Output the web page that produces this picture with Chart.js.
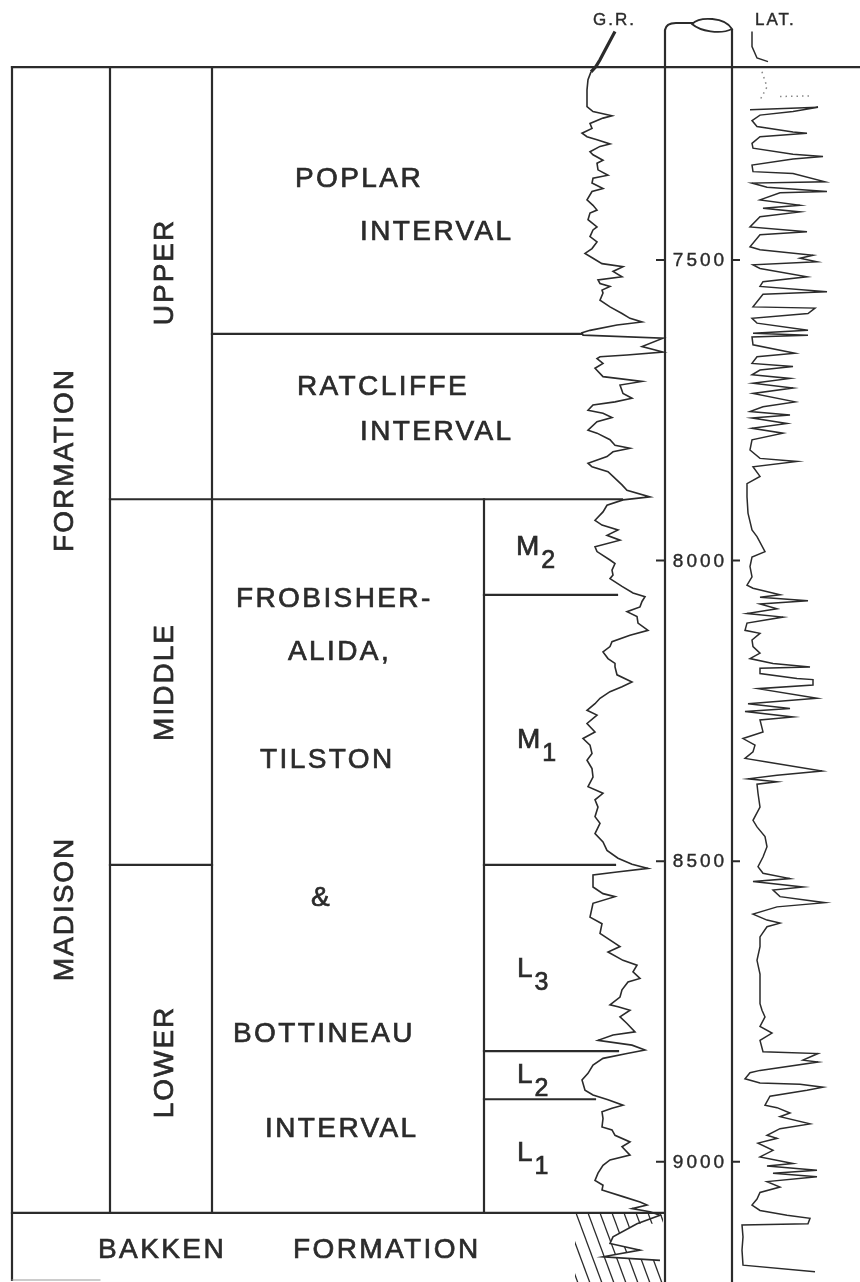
<!DOCTYPE html>
<html>
<head>
<meta charset="utf-8">
<title>Madison Formation - type log</title>
<script src="https://cdn.jsdelivr.net/npm/chart.js@4.4.0/dist/chart.umd.min.js"></script>
<style>
  html, body { margin: 0; padding: 0; background: #fff; }
  canvas { display: block; }
</style>
</head>
<body>
<canvas id="log" width="860" height="1282"></canvas>
<script>
// — DATA —
// depth ticks on the depth track (ft)
const depthTicks = [7500, 8000, 8500, 9000];

// zone boundaries (ft), top to bottom
const zoneNames = ['Madison', 'Ratcliffe', 'Middle', 'M1', 'Lower', 'L2', 'L1', 'Bakken'];
const zoneTops  = [7179, 7623, 7898, 8057, 8506, 8816, 8896, 9085];

// gamma ray log: [depth ft, API]
const grLog = [
  [7120,55],[7151,45],[7167,40],[7178,36],[7187,31],[7200,28],[7217,27],[7234,27],[7245,27],[7253,33],
  [7260,52],[7264,43],[7273,30],[7281,32],[7289,22],[7295,27],[7300,37],[7307,50],[7311,40],[7320,30],
  [7325,33],[7334,43],[7339,37],[7350,38],[7359,48],[7364,33],[7372,32],[7381,43],[7386,32],[7400,27],
  [7409,33],[7417,37],[7422,30],[7433,28],[7445,37],[7450,33],[7461,30],[7470,37],[7481,32],[7489,25],
  [7497,33],[7506,42],[7511,63],[7519,53],[7528,62],[7533,38],[7539,40],[7544,50],[7550,42],[7555,43],
  [7567,40],[7578,50],[7589,62],[7597,70],[7603,82],[7608,57],[7617,30],[7621,22],[7625,23],[7630,103],
  [7644,82],[7653,103],[7658,67],[7661,40],[7664,37],[7672,43],[7680,35],[7694,43],[7702,82],[7708,60],
  [7722,63],[7730,72],[7736,55],[7741,33],[7750,28],[7755,43],[7762,52],[7769,37],[7783,28],[7788,37],
  [7799,50],[7808,55],[7813,70],[7819,53],[7827,47],[7838,28],[7844,32],[7852,48],[7860,53],[7874,62],
  [7883,67],[7894,90],[7899,63],[7908,47],[7919,43],[7933,35],[7941,42],[7949,58],[7958,47],[7966,60],
  [7977,35],[7985,37],[7999,50],[8005,55],[8016,52],[8024,53],[8030,50],[8043,62],[8054,73],[8060,85],
  [8068,82],[8077,80],[8085,67],[8093,77],[8104,78],[8116,88],[8124,70],[8135,52],[8143,50],[8152,43],
  [8163,48],[8171,55],[8177,55],[8190,57],[8202,72],[8210,62],[8218,50],[8229,40],[8238,35],[8249,27],
  [8257,37],[8271,27],[8285,35],[8296,23],[8307,30],[8321,32],[8332,27],[8346,32],[8360,33],[8376,28],
  [8387,43],[8398,35],[8410,38],[8426,35],[8437,40],[8454,35],[8468,43],[8482,47],[8495,58],[8505,72],
  [8512,88],[8518,57],[8523,33],[8543,33],[8554,43],[8559,55],[8570,33],[8593,30],[8604,42],[8620,40],
  [8642,60],[8651,48],[8665,63],[8673,77],[8684,73],[8695,80],[8701,68],[8714,62],[8726,60],[8739,50],
  [8742,58],[8748,70],[8759,60],[8770,67],[8784,75],[8789,53],[8798,38],[8806,72],[8814,85],[8820,67],
  [8828,43],[8839,33],[8853,28],[8864,22],[8881,25],[8889,33],[8897,48],[8906,63],[8911,52],[8917,42],
  [8928,43],[8942,42],[8947,52],[8956,55],[8967,70],[8975,62],[8989,70],[8997,50],[9006,43],[9019,38],
  [9031,35],[9039,43],[9047,42],[9058,63],[9067,80],[9072,87],[9078,72],[9083,90],[9089,100],[9103,77],
  [9125,53],[9136,50],[9147,80],[9158,43],[9164,100]
];

// laterolog: [depth ft, resistivity units]; null = pen lifted
const latLog = [
  [7120,17],[7145,17],[7164,22],[7170,33], null,
  [7187,27],[7212,32],[7234,25], null,
  [7228,45],[7227,78], null,
  [7250,15],[7246,83],[7253,58],[7259,25],[7268,17],[7278,22],[7287,58],[7289,72],[7295,25],[7306,17],
  [7314,18],[7324,58],[7328,88],[7332,58],[7342,17],[7353,18],[7356,58],[7370,90],[7372,17],[7379,32],
  [7386,92],[7388,45],[7400,25],[7409,65],[7414,28],[7420,65],[7428,25],[7445,15],[7453,72],[7458,25],
  [7478,15],[7483,25],[7492,78],[7497,65],[7503,82],[7508,18],[7514,25],[7528,72],[7536,28],[7544,25],
  [7553,92],[7557,28],[7578,18],[7580,80],[7589,73],[7597,17],[7605,22],[7617,73],[7622,18],[7625,73],
  [7628,17],[7641,18],[7655,60],[7661,22],[7672,17],[7677,58],[7683,25],[7691,17],[7697,55],[7705,18],
  [7713,58],[7722,18],[7736,60],[7744,28],[7752,15],[7758,55],[7763,17],[7772,52],[7780,17],[7788,48],
  [7799,17],[7816,15],[7830,25],[7835,62],[7844,18],[7860,25],[7872,12],[7894,12],[7921,13],[7949,17],
  [7960,22],[7985,30],[7994,17],[8010,15],[8027,17],[8041,12],[8046,18],[8057,45],[8061,25],[8067,73],
  [8072,25],[8080,42],[8088,12],[8094,48],[8104,12],[8116,10],[8121,25],[8132,17],[8143,18],[8154,25],
  [8163,15],[8171,38],[8177,75],[8179,25],[8188,25],[8196,62],[8198,78],[8207,78],[8213,23],[8229,82],
  [8238,13],[8246,55],[8251,10],[8260,58],[8265,25],[8285,28],[8296,8],[8307,20],[8318,18],[8329,10],
  [8335,32],[8350,87],[8357,42],[8363,13],[8368,42],[8372,22],[8387,23],[8410,25],[8432,18],[8443,22],
  [8459,30],[8476,32],[8493,28],[8509,23],[8520,28],[8529,55],[8534,18],[8543,68],[8548,38],[8559,45],
  [8569,90],[8576,42],[8588,18],[8598,32],[8603,45],[8609,32],[8626,25],[8642,25],[8665,22],[8688,25],
  [8721,25],[8737,25],[8748,27],[8759,30],[8775,25],[8786,37],[8798,25],[8817,28],[8820,83],[8831,68],
  [8834,83],[8848,25],[8852,15],[8862,10],[8869,25],[8871,65],[8876,88],[8881,72],[8891,35],[8906,30],
  [8910,42],[8919,55],[8925,45],[8937,75],[8945,45],[8956,32],[8961,42],[8969,23],[8981,38],[8992,25],
  [9003,58],[9007,32],[9014,82],[9019,38],[9025,82],[9033,32],[9042,45],[9051,25],[9062,22],[9072,17],
  [9081,25],[9089,52],[9094,75],[9103,73],[9105,7],[9125,8],[9147,7],[9172,8],[9183,80]
];

// — LAYOUT —
const W = 860, H = 1282;
const INK = '#2b2b2b';
const FONT = '"Liberation Sans", Arial, sans-serif';
const COL = { left: 12, c1: 110, c2: 212, c3: 484, trackL: 665, trackR: 732 };

// where each boundary line runs (px)
const zoneSpans = {
  Madison:   [[12, 860]],
  Ratcliffe: [[212, 582]],
  Middle:    [[110, 622]],
  M1:        [[484, 617]],
  Lower:     [[110, 212], [484, 615]],
  L2:        [[484, 618]],
  L1:        [[484, 595]],
  Bakken:    [[12, 663]]
};

// a linear x-axis for a track: value 0 sits at px0, pxPerUnit pixels per unit
function trackRange(px0, pxPerUnit) {
  return { min: -px0 / pxPerUnit, max: (W - px0) / pxPerUnit };
}

function toPoint(p) {
  return p ? { x: p[1], y: p[0] } : { x: NaN, y: NaN };
}

// pen lettering: fill plus a thin stroke to thicken the strokes a little
function drawText(ctx, text, x, y, size, spacing) {
  ctx.font = `${size}px ${FONT}`;
  ctx.letterSpacing = `${spacing}px`;
  ctx.fillText(text, x, y);
  ctx.lineWidth = size > 20 ? 0.7 : 0.4;
  ctx.strokeText(text, x, y);
}

function drawRotated(ctx, text, cx, cy) {
  ctx.save();
  ctx.translate(cx, cy);
  ctx.rotate(-Math.PI / 2);
  ctx.textAlign = 'center';
  drawText(ctx, text, 0, 10, 28, 2);
  ctx.restore();
}

const frame = {
  id: 'frame',
  beforeDraw(chart) {
    const ctx = chart.ctx;
    ctx.save();
    ctx.fillStyle = '#fff';
    ctx.fillRect(0, 0, W, H);
    ctx.restore();
  },
  beforeDatasetsDraw(chart) {
    const ctx = chart.ctx;
    const yS = chart.scales.y;
    const Y = d => yS.getPixelForValue(d);
    const top = Y(zoneTops[0]);
    const yMid = Y(zoneTops[zoneNames.indexOf('Middle')]);
    const yBak = Y(zoneTops[zoneNames.indexOf('Bakken')]);

    ctx.save();
    ctx.strokeStyle = INK;
    ctx.lineWidth = 2.2;
    ctx.lineCap = 'square';

    // 1) zone boundaries
    zoneNames.forEach((name, i) => {
      const yy = Y(zoneTops[i]);
      zoneSpans[name].forEach(([x0, x1]) => {
        ctx.beginPath();
        ctx.moveTo(x0, yy);
        ctx.lineTo(x1, yy);
        ctx.stroke();
      });
    });

    // 2) column walls
    const walls = [[COL.left, top, H - 2], [COL.c1, top, yBak], [COL.c2, top, yBak], [COL.c3, yMid, yBak]];
    walls.forEach(([x, y0, y1]) => {
      ctx.beginPath();
      ctx.moveTo(x, y0);
      ctx.lineTo(x, y1);
      ctx.stroke();
    });
    ctx.lineWidth = 1;
    ctx.strokeStyle = '#999';
    ctx.beginPath();
    ctx.moveTo(COL.left, H - 2);
    ctx.lineTo(100, H - 2);
    ctx.stroke();

    // 3) depth track (cored borehole)
    ctx.strokeStyle = INK;
    ctx.lineWidth = 2.2;
    ctx.beginPath();
    ctx.moveTo(COL.trackL, H);
    ctx.lineTo(COL.trackL, 30);
    ctx.quadraticCurveTo(COL.trackL + 1, 23, 676, 23);
    ctx.lineTo(692, 23);
    ctx.moveTo(COL.trackR, H);
    ctx.lineTo(COL.trackR, 30);
    ctx.stroke();
    ctx.lineWidth = 1.8;
    ctx.beginPath();
    ctx.moveTo(692, 24);
    ctx.bezierCurveTo(700, 16, 725, 17, 732, 29);
    ctx.bezierCurveTo(720, 35, 700, 31, 692, 24);
    ctx.stroke();

    ctx.fillStyle = INK;
    ctx.textBaseline = 'middle';
    ctx.textAlign = 'center';
    depthTicks.forEach(d => {
      const yy = Y(d);
      ctx.lineWidth = 2;
      ctx.beginPath();
      ctx.moveTo(COL.trackL - 8, yy); ctx.lineTo(COL.trackL, yy);
      ctx.moveTo(COL.trackR, yy); ctx.lineTo(COL.trackR + 7, yy);
      ctx.stroke();
      drawText(ctx, String(d), 700, yy + 1, 19, 3);
    });

    // 4) Bakken shale hatch, cut open where the GR trace swings in
    ctx.save();
    ctx.beginPath();
    ctx.rect(575, yBak, 663 - 575, H - yBak);
    ctx.clip();
    ctx.lineWidth = 1.3;
    const dy = H - yBak;
    for (let x = 540; x < 670; x += 12) {
      ctx.beginPath();
      ctx.moveTo(x, yBak);
      ctx.lineTo(x + dy / 2.7, H);
      ctx.stroke();
    }
    const grS = chart.scales.gr;
    const inShale = grLog.filter(p => p[0] >= 9103 && p[0] <= 9164);
    ctx.fillStyle = '#fff';
    ctx.beginPath();
    inShale.forEach((p, i) => {
      const px = grS.getPixelForValue(p[1]);
      const py = Y(p[0]);
      if (i === 0) ctx.moveTo(px, py); else ctx.lineTo(px, py);
    });
    ctx.lineTo(663, Y(inShale[inShale.length - 1][0]));
    ctx.lineTo(663, Y(inShale[0][0]));
    ctx.closePath();
    ctx.fill();
    ctx.restore();

    // 5) labels
    ctx.fillStyle = INK;
    ctx.strokeStyle = INK;
    ctx.textAlign = 'left';
    ctx.textBaseline = 'alphabetic';
    const words = [
      ['POPLAR', 295, 187], ['INTERVAL', 360, 240],
      ['RATCLIFFE', 297, 395], ['INTERVAL', 360, 440],
      ['FROBISHER-', 236, 607], ['ALIDA,', 288, 660], ['TILSTON', 260, 768],
      ['&', 311, 906], ['BOTTINEAU', 233, 1042], ['INTERVAL', 265, 1137],
      ['BAKKEN', 98, 1258], ['FORMATION', 293, 1258]
    ];
    words.forEach(([t, x, y]) => drawText(ctx, t, x, y, 28, 2.4));

    const subs = [
      ['M', '2', 516, 555], ['M', '1', 517, 748],
      ['L', '3', 517, 977], ['L', '2', 517, 1083], ['L', '1', 517, 1161]
    ];
    subs.forEach(([m, s, x, y]) => {
      ctx.font = `28px ${FONT}`;
      ctx.letterSpacing = '0px';
      const w = ctx.measureText(m).width;
      drawText(ctx, m, x, y, 28, 0);
      drawText(ctx, s, x + w + 2, y + 13, 25, 0);
    });

    drawText(ctx, 'G.R.', 593, 25, 17, 2);
    drawText(ctx, 'LAT.', 755, 25, 17, 2);

    [['FORMATION', 63, 460], ['MADISON', 63, 909], ['UPPER', 163, 272],
     ['MIDDLE', 163, 682], ['LOWER', 163, 1062]].forEach(([t, x, y]) => drawRotated(ctx, t, x, y));

    ctx.restore();
  }
};

new Chart(document.getElementById('log'), {
  type: 'scatter',
  data: {
    datasets: [
      {
        label: 'G.R.',
        xAxisID: 'gr',
        yAxisID: 'y',
        data: grLog.map(toPoint),
        showLine: true,
        borderColor: INK,
        borderWidth: 1.6,
        pointRadius: 0,
        tension: 0,
        // trace above the log heading is drawn heavy
        segment: { borderWidth: c => (c.p0.parsed.y < zoneTops[0] ? 3.2 : undefined) }
      },
      {
        label: 'LAT.',
        xAxisID: 'lat',
        yAxisID: 'y',
        data: latLog.map(toPoint),
        showLine: true,
        borderColor: INK,
        borderWidth: 1.5,
        pointRadius: 0,
        tension: 0,
        spanGaps: false,
        segment: {
          borderDash: c => (c.p0.parsed.y > 7180 && c.p0.parsed.y < 7240 && c.p1.parsed.y < 7240 ? [1.5, 4] : undefined),
          borderColor: c => (c.p0.parsed.y > 7180 && c.p0.parsed.y < 7240 && c.p1.parsed.y < 7240 ? '#888' : undefined)
        }
      }
    ]
  },
  options: {
    responsive: false,
    animation: false,
    devicePixelRatio: 1,
    events: [],
    layout: { padding: 0 },
    plugins: { legend: { display: false }, tooltip: { enabled: false } },
    scales: {
      x:   { type: 'linear', display: false },
      y:   { type: 'linear', reverse: true, min: 7067.5, max: 9200, display: false },
      gr:  Object.assign({ type: 'linear', axis: 'x', position: 'bottom', display: false }, trackRange(560, 1)),
      lat: Object.assign({ type: 'linear', axis: 'x', position: 'bottom', display: false }, trackRange(735, 1))
    }
  },
  plugins: [frame]
});
</script>
</body>
</html>
